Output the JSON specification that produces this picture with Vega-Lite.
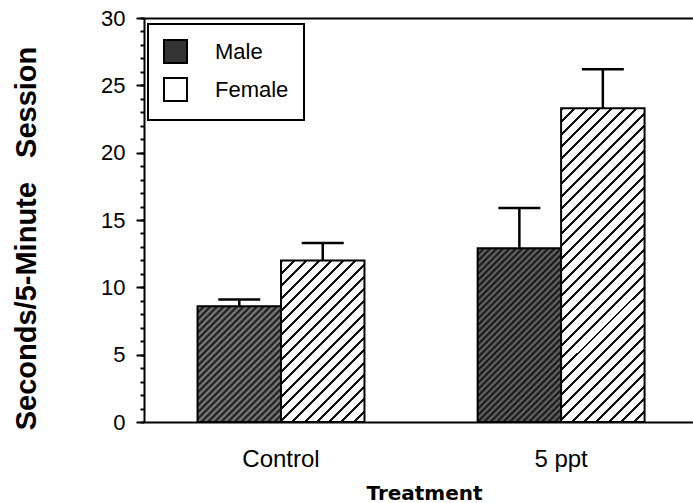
{
"$schema": "https://vega.github.io/schema/vega-lite/v6.json",
"width": 549,
"height": 404,
"autosize": {"type": "none"},
"padding": {"left": 144, "top": 18, "right": 0, "bottom": 81},
"background": "white",
"config": {"view": {"stroke": null}, "font": "Liberation Sans", "axis": {"grid": false, "domainColor": "black", "tickColor": "black", "labelColor": "black", "titleColor": "black"}},
"data": {"values": [
{"treatment": "Control", "sex": "Male", "value": 8.6, "upper": 9.1},
{"treatment": "Control", "sex": "Female", "value": 12.0, "upper": 13.3},
{"treatment": "5 ppt", "sex": "Male", "value": 12.9, "upper": 15.9},
{"treatment": "5 ppt", "sex": "Female", "value": 23.3, "upper": 26.2}
]},
"layer": [
{
"mark": {"type": "bar", "stroke": "black", "strokeWidth": 2},
"encoding": {
"x": {"field": "treatment", "type": "nominal", "sort": ["Control", "5 ppt"], "scale": {"paddingInner": 0.404, "paddingOuter": 0.182, "align": 0.525},
 "axis": {"orient": "bottom", "domainWidth": 2, "ticks": false, "tickSize": 0, "labelAngle": 0, "labelFontSize": 24, "labelPadding": 25, "title": "Treatment", "titleFont": "DejaVu Sans", "titleFontSize": 20, "titleFontWeight": "bold", "titleX": 280, "titleY": 77, "titleBaseline": "alphabetic", "titleAlign": "center"}},
"xOffset": {"field": "sex", "type": "nominal", "sort": ["Male", "Female"], "scale": {"paddingInner": 0, "paddingOuter": 0}},
"y": {"field": "value", "type": "quantitative", "scale": {"domain": [0, 30], "nice": false},
 "axis": {"orient": "left", "values": [0, 5, 10, 15, 20, 25, 30], "tickSize": 8, "tickWidth": 2, "domainWidth": 2, "labelFontSize": 22, "labelPadding": 11, "title": "Seconds/5-Minute \u00a0 Session", "titleFontSize": 29, "titleFontWeight": "bold", "titleX": -109, "titleY": 220, "titleAngle": -90, "titleBaseline": "alphabetic", "titleAlign": "center"}},
"fill": {"field": "sex", "type": "nominal", "scale": {"domain": ["Male", "Female"], "range": ["#333333", "white"]},
 "legend": {"orient": "none", "legendX": 4, "legendY": 6, "title": null, "padding": 15, "strokeColor": "black", "fillColor": "white", "symbolType": "square", "symbolSize": 529, "symbolStrokeColor": "black", "symbolStrokeWidth": 2, "labelFontSize": 22, "labelColor": "black", "labelOffset": 27, "rowPadding": 7,
  "encode": {
   "legend": {"update": {"strokeWidth": {"value": 2}}},
   "symbols": {"update": {"opacity": {"value": 1}, "stroke": {"value": "black"}, "strokeWidth": {"value": 2}}}
  }},
 "condition": [
  {"test": "datum.treatment === 'Control' && datum.sex === 'Male'", "value": {"gradient": "linear", "x1": 0, "y1": 0, "x2": 0.8161, "y2": 1.1325, "stops": [
{"offset":0,"color":"#111"},{"offset":0.0167,"color":"#888"},{"offset":0.0333,"color":"#111"},{"offset":0.05,"color":"#888"},{"offset":0.0667,"color":"#111"},{"offset":0.0833,"color":"#888"},{"offset":0.1,"color":"#111"},{"offset":0.1167,"color":"#888"},{"offset":0.1333,"color":"#111"},{"offset":0.15,"color":"#888"},{"offset":0.1667,"color":"#111"},{"offset":0.1833,"color":"#888"},{"offset":0.2,"color":"#111"},{"offset":0.2167,"color":"#888"},{"offset":0.2333,"color":"#111"},{"offset":0.25,"color":"#888"},{"offset":0.2667,"color":"#111"},{"offset":0.2833,"color":"#888"},{"offset":0.3,"color":"#111"},{"offset":0.3167,"color":"#888"},{"offset":0.3333,"color":"#111"},{"offset":0.35,"color":"#888"},{"offset":0.3667,"color":"#111"},{"offset":0.3833,"color":"#888"},{"offset":0.4,"color":"#111"},{"offset":0.4167,"color":"#888"},{"offset":0.4333,"color":"#111"},{"offset":0.45,"color":"#888"},{"offset":0.4667,"color":"#111"},{"offset":0.4833,"color":"#888"},{"offset":0.5,"color":"#111"},{"offset":0.5167,"color":"#888"},{"offset":0.5333,"color":"#111"},{"offset":0.55,"color":"#888"},{"offset":0.5667,"color":"#111"},{"offset":0.5833,"color":"#888"},{"offset":0.6,"color":"#111"},{"offset":0.6167,"color":"#888"},{"offset":0.6333,"color":"#111"},{"offset":0.65,"color":"#888"},{"offset":0.6667,"color":"#111"},{"offset":0.6833,"color":"#888"},{"offset":0.7,"color":"#111"},{"offset":0.7167,"color":"#888"},{"offset":0.7333,"color":"#111"},{"offset":0.75,"color":"#888"},{"offset":0.7667,"color":"#111"},{"offset":0.7833,"color":"#888"},{"offset":0.8,"color":"#111"},{"offset":0.8167,"color":"#888"},{"offset":0.8333,"color":"#111"},{"offset":0.85,"color":"#888"},{"offset":0.8667,"color":"#111"},{"offset":0.8833,"color":"#888"},{"offset":0.9,"color":"#111"},{"offset":0.9167,"color":"#888"},{"offset":0.9333,"color":"#111"},{"offset":0.95,"color":"#888"},{"offset":0.9667,"color":"#111"},{"offset":0.9833,"color":"#888"},{"offset":1,"color":"#111"}]}},
  {"test": "datum.treatment === '5 ppt' && datum.sex === 'Male'", "value": {"gradient": "linear", "x1": 0, "y1": 0, "x2": 0.5779, "y2": 1.2029, "stops": [
{"offset":0,"color":"#0e0e0e"},{"offset":0.0125,"color":"#6e6e6e"},{"offset":0.025,"color":"#0e0e0e"},{"offset":0.0375,"color":"#6e6e6e"},{"offset":0.05,"color":"#0e0e0e"},{"offset":0.0625,"color":"#6e6e6e"},{"offset":0.075,"color":"#0e0e0e"},{"offset":0.0875,"color":"#6e6e6e"},{"offset":0.1,"color":"#0e0e0e"},{"offset":0.1125,"color":"#6e6e6e"},{"offset":0.125,"color":"#0e0e0e"},{"offset":0.1375,"color":"#6e6e6e"},{"offset":0.15,"color":"#0e0e0e"},{"offset":0.1625,"color":"#6e6e6e"},{"offset":0.175,"color":"#0e0e0e"},{"offset":0.1875,"color":"#6e6e6e"},{"offset":0.2,"color":"#0e0e0e"},{"offset":0.2125,"color":"#6e6e6e"},{"offset":0.225,"color":"#0e0e0e"},{"offset":0.2375,"color":"#6e6e6e"},{"offset":0.25,"color":"#0e0e0e"},{"offset":0.2625,"color":"#6e6e6e"},{"offset":0.275,"color":"#0e0e0e"},{"offset":0.2875,"color":"#6e6e6e"},{"offset":0.3,"color":"#0e0e0e"},{"offset":0.3125,"color":"#6e6e6e"},{"offset":0.325,"color":"#0e0e0e"},{"offset":0.3375,"color":"#6e6e6e"},{"offset":0.35,"color":"#0e0e0e"},{"offset":0.3625,"color":"#6e6e6e"},{"offset":0.375,"color":"#0e0e0e"},{"offset":0.3875,"color":"#6e6e6e"},{"offset":0.4,"color":"#0e0e0e"},{"offset":0.4125,"color":"#6e6e6e"},{"offset":0.425,"color":"#0e0e0e"},{"offset":0.4375,"color":"#6e6e6e"},{"offset":0.45,"color":"#0e0e0e"},{"offset":0.4625,"color":"#6e6e6e"},{"offset":0.475,"color":"#0e0e0e"},{"offset":0.4875,"color":"#6e6e6e"},{"offset":0.5,"color":"#0e0e0e"},{"offset":0.5125,"color":"#6e6e6e"},{"offset":0.525,"color":"#0e0e0e"},{"offset":0.5375,"color":"#6e6e6e"},{"offset":0.55,"color":"#0e0e0e"},{"offset":0.5625,"color":"#6e6e6e"},{"offset":0.575,"color":"#0e0e0e"},{"offset":0.5875,"color":"#6e6e6e"},{"offset":0.6,"color":"#0e0e0e"},{"offset":0.6125,"color":"#6e6e6e"},{"offset":0.625,"color":"#0e0e0e"},{"offset":0.6375,"color":"#6e6e6e"},{"offset":0.65,"color":"#0e0e0e"},{"offset":0.6625,"color":"#6e6e6e"},{"offset":0.675,"color":"#0e0e0e"},{"offset":0.6875,"color":"#6e6e6e"},{"offset":0.7,"color":"#0e0e0e"},{"offset":0.7125,"color":"#6e6e6e"},{"offset":0.725,"color":"#0e0e0e"},{"offset":0.7375,"color":"#6e6e6e"},{"offset":0.75,"color":"#0e0e0e"},{"offset":0.7625,"color":"#6e6e6e"},{"offset":0.775,"color":"#0e0e0e"},{"offset":0.7875,"color":"#6e6e6e"},{"offset":0.8,"color":"#0e0e0e"},{"offset":0.8125,"color":"#6e6e6e"},{"offset":0.825,"color":"#0e0e0e"},{"offset":0.8375,"color":"#6e6e6e"},{"offset":0.85,"color":"#0e0e0e"},{"offset":0.8625,"color":"#6e6e6e"},{"offset":0.875,"color":"#0e0e0e"},{"offset":0.8875,"color":"#6e6e6e"},{"offset":0.9,"color":"#0e0e0e"},{"offset":0.9125,"color":"#6e6e6e"},{"offset":0.925,"color":"#0e0e0e"},{"offset":0.9375,"color":"#6e6e6e"},{"offset":0.95,"color":"#0e0e0e"},{"offset":0.9625,"color":"#6e6e6e"},{"offset":0.975,"color":"#0e0e0e"},{"offset":0.9875,"color":"#6e6e6e"},{"offset":1,"color":"#0e0e0e"}]}},
  {"test": "datum.treatment === 'Control' && datum.sex === 'Female'", "value": {"gradient": "linear", "x1": 0, "y1": 0, "x2": 0.6182, "y2": 1.1971, "stops": [
{"offset":0,"color":"#111"},{"offset":0.012,"color":"#111"},{"offset":0.012,"color":"#fff"},{"offset":0.05,"color":"#fff"},
{"offset":0.05,"color":"#111"},{"offset":0.062,"color":"#111"},{"offset":0.062,"color":"#fff"},{"offset":0.1,"color":"#fff"},
{"offset":0.1,"color":"#111"},{"offset":0.112,"color":"#111"},{"offset":0.112,"color":"#fff"},{"offset":0.15,"color":"#fff"},
{"offset":0.15,"color":"#111"},{"offset":0.162,"color":"#111"},{"offset":0.162,"color":"#fff"},{"offset":0.2,"color":"#fff"},
{"offset":0.2,"color":"#111"},{"offset":0.212,"color":"#111"},{"offset":0.212,"color":"#fff"},{"offset":0.25,"color":"#fff"},
{"offset":0.25,"color":"#111"},{"offset":0.262,"color":"#111"},{"offset":0.262,"color":"#fff"},{"offset":0.3,"color":"#fff"},
{"offset":0.3,"color":"#111"},{"offset":0.312,"color":"#111"},{"offset":0.312,"color":"#fff"},{"offset":0.35,"color":"#fff"},
{"offset":0.35,"color":"#111"},{"offset":0.362,"color":"#111"},{"offset":0.362,"color":"#fff"},{"offset":0.4,"color":"#fff"},
{"offset":0.4,"color":"#111"},{"offset":0.412,"color":"#111"},{"offset":0.412,"color":"#fff"},{"offset":0.45,"color":"#fff"},
{"offset":0.45,"color":"#111"},{"offset":0.462,"color":"#111"},{"offset":0.462,"color":"#fff"},{"offset":0.5,"color":"#fff"},
{"offset":0.5,"color":"#111"},{"offset":0.512,"color":"#111"},{"offset":0.512,"color":"#fff"},{"offset":0.55,"color":"#fff"},
{"offset":0.55,"color":"#111"},{"offset":0.562,"color":"#111"},{"offset":0.562,"color":"#fff"},{"offset":0.6,"color":"#fff"},
{"offset":0.6,"color":"#111"},{"offset":0.612,"color":"#111"},{"offset":0.612,"color":"#fff"},{"offset":0.65,"color":"#fff"},
{"offset":0.65,"color":"#111"},{"offset":0.662,"color":"#111"},{"offset":0.662,"color":"#fff"},{"offset":0.7,"color":"#fff"},
{"offset":0.7,"color":"#111"},{"offset":0.712,"color":"#111"},{"offset":0.712,"color":"#fff"},{"offset":0.75,"color":"#fff"},
{"offset":0.75,"color":"#111"},{"offset":0.762,"color":"#111"},{"offset":0.762,"color":"#fff"},{"offset":0.8,"color":"#fff"},
{"offset":0.8,"color":"#111"},{"offset":0.812,"color":"#111"},{"offset":0.812,"color":"#fff"},{"offset":0.85,"color":"#fff"},
{"offset":0.85,"color":"#111"},{"offset":0.862,"color":"#111"},{"offset":0.862,"color":"#fff"},{"offset":0.9,"color":"#fff"},
{"offset":0.9,"color":"#111"},{"offset":0.912,"color":"#111"},{"offset":0.912,"color":"#fff"},{"offset":0.95,"color":"#fff"},
{"offset":0.95,"color":"#111"},{"offset":0.962,"color":"#111"},{"offset":0.962,"color":"#fff"},{"offset":1,"color":"#fff"}]}},
  {"test": "datum.treatment === '5 ppt' && datum.sex === 'Female'", "value": {"gradient": "linear", "x1": 0, "y1": 0, "x2": 0.3144, "y2": 1.1823, "stops": [
{"offset":0,"color":"#111"},{"offset":0.0075,"color":"#111"},{"offset":0.0075,"color":"#fff"},{"offset":0.03125,"color":"#fff"},
{"offset":0.03125,"color":"#111"},{"offset":0.03875,"color":"#111"},{"offset":0.03875,"color":"#fff"},{"offset":0.0625,"color":"#fff"},
{"offset":0.0625,"color":"#111"},{"offset":0.07,"color":"#111"},{"offset":0.07,"color":"#fff"},{"offset":0.09375,"color":"#fff"},
{"offset":0.09375,"color":"#111"},{"offset":0.10125,"color":"#111"},{"offset":0.10125,"color":"#fff"},{"offset":0.125,"color":"#fff"},
{"offset":0.125,"color":"#111"},{"offset":0.1325,"color":"#111"},{"offset":0.1325,"color":"#fff"},{"offset":0.15625,"color":"#fff"},
{"offset":0.15625,"color":"#111"},{"offset":0.16375,"color":"#111"},{"offset":0.16375,"color":"#fff"},{"offset":0.1875,"color":"#fff"},
{"offset":0.1875,"color":"#111"},{"offset":0.195,"color":"#111"},{"offset":0.195,"color":"#fff"},{"offset":0.21875,"color":"#fff"},
{"offset":0.21875,"color":"#111"},{"offset":0.22625,"color":"#111"},{"offset":0.22625,"color":"#fff"},{"offset":0.25,"color":"#fff"},
{"offset":0.25,"color":"#111"},{"offset":0.2575,"color":"#111"},{"offset":0.2575,"color":"#fff"},{"offset":0.28125,"color":"#fff"},
{"offset":0.28125,"color":"#111"},{"offset":0.28875,"color":"#111"},{"offset":0.28875,"color":"#fff"},{"offset":0.3125,"color":"#fff"},
{"offset":0.3125,"color":"#111"},{"offset":0.32,"color":"#111"},{"offset":0.32,"color":"#fff"},{"offset":0.34375,"color":"#fff"},
{"offset":0.34375,"color":"#111"},{"offset":0.35125,"color":"#111"},{"offset":0.35125,"color":"#fff"},{"offset":0.375,"color":"#fff"},
{"offset":0.375,"color":"#111"},{"offset":0.3825,"color":"#111"},{"offset":0.3825,"color":"#fff"},{"offset":0.40625,"color":"#fff"},
{"offset":0.40625,"color":"#111"},{"offset":0.41375,"color":"#111"},{"offset":0.41375,"color":"#fff"},{"offset":0.4375,"color":"#fff"},
{"offset":0.4375,"color":"#111"},{"offset":0.445,"color":"#111"},{"offset":0.445,"color":"#fff"},{"offset":0.46875,"color":"#fff"},
{"offset":0.46875,"color":"#111"},{"offset":0.47625,"color":"#111"},{"offset":0.47625,"color":"#fff"},{"offset":0.5,"color":"#fff"},
{"offset":0.5,"color":"#111"},{"offset":0.5075,"color":"#111"},{"offset":0.5075,"color":"#fff"},{"offset":0.53125,"color":"#fff"},
{"offset":0.53125,"color":"#111"},{"offset":0.53875,"color":"#111"},{"offset":0.53875,"color":"#fff"},{"offset":0.5625,"color":"#fff"},
{"offset":0.5625,"color":"#111"},{"offset":0.57,"color":"#111"},{"offset":0.57,"color":"#fff"},{"offset":0.59375,"color":"#fff"},
{"offset":0.59375,"color":"#111"},{"offset":0.60125,"color":"#111"},{"offset":0.60125,"color":"#fff"},{"offset":0.625,"color":"#fff"},
{"offset":0.625,"color":"#111"},{"offset":0.6325,"color":"#111"},{"offset":0.6325,"color":"#fff"},{"offset":0.65625,"color":"#fff"},
{"offset":0.65625,"color":"#111"},{"offset":0.66375,"color":"#111"},{"offset":0.66375,"color":"#fff"},{"offset":0.6875,"color":"#fff"},
{"offset":0.6875,"color":"#111"},{"offset":0.695,"color":"#111"},{"offset":0.695,"color":"#fff"},{"offset":0.71875,"color":"#fff"},
{"offset":0.71875,"color":"#111"},{"offset":0.72625,"color":"#111"},{"offset":0.72625,"color":"#fff"},{"offset":0.75,"color":"#fff"},
{"offset":0.75,"color":"#111"},{"offset":0.7575,"color":"#111"},{"offset":0.7575,"color":"#fff"},{"offset":0.78125,"color":"#fff"},
{"offset":0.78125,"color":"#111"},{"offset":0.78875,"color":"#111"},{"offset":0.78875,"color":"#fff"},{"offset":0.8125,"color":"#fff"},
{"offset":0.8125,"color":"#111"},{"offset":0.82,"color":"#111"},{"offset":0.82,"color":"#fff"},{"offset":0.84375,"color":"#fff"},
{"offset":0.84375,"color":"#111"},{"offset":0.85125,"color":"#111"},{"offset":0.85125,"color":"#fff"},{"offset":0.875,"color":"#fff"},
{"offset":0.875,"color":"#111"},{"offset":0.8825,"color":"#111"},{"offset":0.8825,"color":"#fff"},{"offset":0.90625,"color":"#fff"},
{"offset":0.90625,"color":"#111"},{"offset":0.91375,"color":"#111"},{"offset":0.91375,"color":"#fff"},{"offset":0.9375,"color":"#fff"},
{"offset":0.9375,"color":"#111"},{"offset":0.945,"color":"#111"},{"offset":0.945,"color":"#fff"},{"offset":0.96875,"color":"#fff"},
{"offset":0.96875,"color":"#111"},{"offset":0.97625,"color":"#111"},{"offset":0.97625,"color":"#fff"},{"offset":1,"color":"#fff"}]}}
 ]}
}
},
{
"mark": {"type": "rule", "color": "black", "strokeWidth": 2.5},
"encoding": {
"x": {"field": "treatment", "type": "nominal", "sort": ["Control", "5 ppt"], "scale": {"paddingInner": 0.404, "paddingOuter": 0.182, "align": 0.525},
 "axis": {"orient": "top", "labels": false, "ticks": false, "title": null, "domainWidth": 2}},
"xOffset": {"field": "sex", "type": "nominal", "sort": ["Male", "Female"], "scale": {"paddingInner": 0, "paddingOuter": 0}},
"y": {"field": "value", "type": "quantitative", "scale": {"domain": [0, 30], "nice": false},
 "axis": {"orient": "left", "values": [0,1,2,3,4,5,6,7,8,9,10,11,12,13,14,15,16,17,18,19,20,21,22,23,24,25,26,27,28,29,30], "tickSize": 4, "tickWidth": 2, "labels": false, "domain": false, "title": null}},
"y2": {"field": "upper"}
}
},
{
"mark": {"type": "tick", "color": "black", "thickness": 2.5, "size": 42, "orient": "horizontal", "opacity": 1},
"encoding": {
"x": {"field": "treatment", "type": "nominal", "sort": ["Control", "5 ppt"], "scale": {"paddingInner": 0.404, "paddingOuter": 0.182, "align": 0.525}, "axis": null},
"xOffset": {"field": "sex", "type": "nominal", "sort": ["Male", "Female"], "scale": {"paddingInner": 0, "paddingOuter": 0}},
"y": {"field": "upper", "type": "quantitative", "scale": {"domain": [0, 30], "nice": false}, "axis": null}
}
}
],
"resolve": {"axis": {"x": "independent", "y": "independent"}}
}
